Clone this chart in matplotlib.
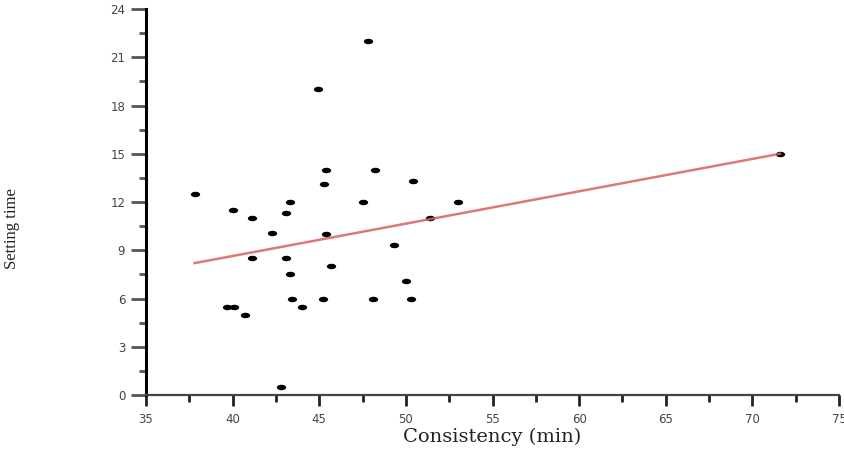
import numpy as np
import matplotlib
matplotlib.use("Agg")
from matplotlib import pyplot as plt
from matplotlib.path import Path
from matplotlib.transforms import Affine2D
from matplotlib.ticker import MultipleLocator

# consistency (min) vs setting time
consistency = [37.8, 40.0, 41.1, 42.3, 41.1, 43.3, 43.1, 43.1, 43.3, 43.4,
               44.0, 39.7, 40.1, 40.7, 42.8, 45.2, 45.4, 45.3, 45.4, 45.7,
               47.5, 48.2, 48.1, 49.3, 50.0, 50.3, 50.4, 51.4, 53.0, 44.9,
               47.8, 71.6]
setting_time = [12.5, 11.5, 11.0, 10.1, 8.5, 12.0, 11.3, 8.5, 7.5, 6.0,
                5.5, 5.5, 5.5, 5.0, 0.5, 6.0, 14.0, 13.1, 10.0, 8.0,
                12.0, 14.0, 6.0, 9.3, 7.1, 6.0, 13.3, 11.0, 12.0, 19.0,
                22.0, 15.0]

# trend line end points
fit_x = [37.8, 71.6]
fit_y = [8.2, 15.0]

fig = plt.figure(figsize=(8.45, 4.59), dpi=100)
ax = fig.add_axes([0.1728, 0.1394, 0.8201, 0.841])

# points in the source look squashed, so use a wide ellipse marker
blob = Path.unit_circle().transformed(Affine2D().scale(1.7, 1.0))
ax.scatter(consistency, setting_time, marker=blob, s=45, color="black",
           linewidths=0, zorder=2)
ax.plot(fit_x, fit_y, color="#d9605a", linewidth=1.8, alpha=0.85, zorder=3)

ax.set_xlim(35, 75)
ax.set_ylim(0, 24)
ax.xaxis.set_major_locator(MultipleLocator(5))
ax.xaxis.set_minor_locator(MultipleLocator(2.5))
ax.yaxis.set_major_locator(MultipleLocator(3))
ax.yaxis.set_minor_locator(MultipleLocator(1.5))

for side in ["top", "right"]:
    ax.spines[side].set_visible(False)
ax.spines["left"].set_linewidth(2.2)
ax.spines["bottom"].set_linewidth(1.6)
ax.spines["bottom"].set_color("#444444")

ax.tick_params(axis="y", which="major", length=11, width=2, color="#555555",
               labelsize=8.5, labelcolor="#444444", pad=4)
ax.tick_params(axis="y", which="minor", length=5, width=2, color="#555555")
ax.tick_params(axis="x", which="major", length=8, width=2, color="#222222",
               labelsize=8.5, labelcolor="#444444", pad=5)
ax.tick_params(axis="x", which="minor", length=5, width=2, color="#222222")

ax.set_xlabel("Consistency (min)", fontsize=14, family="DejaVu Serif",
              color="#222222", labelpad=1)
ax.set_ylabel("Setting time", fontsize=12, family="Liberation Serif",
              color="#222222")
ax.yaxis.set_label_coords(-0.182, 0.43)

fig.savefig("out.png", dpi=100)
plt.close(fig)
